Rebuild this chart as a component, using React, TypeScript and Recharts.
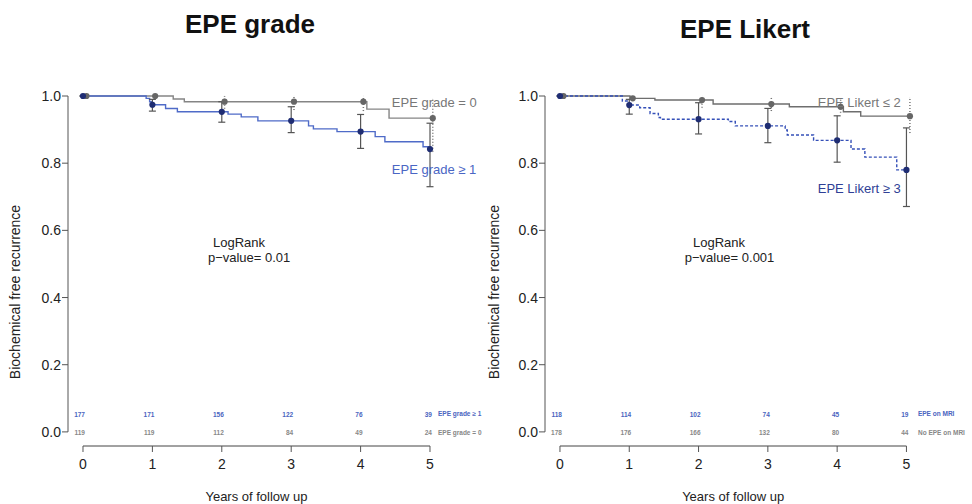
import React from 'react';
import {
  ComposedChart,
  Line,
  Scatter,
  ErrorBar,
  XAxis,
  YAxis,
  ReferenceLine,
  ReferenceDot
} from 'recharts';

const FONT = '"Liberation Sans", Arial, Helvetica, sans-serif';
const X_MIN = -0.216;
const X_MAX = 5.5;
const Y_MIN = -0.042;
const YEARS = [0, 1, 2, 3, 4, 5];
const Y_TICKS = [0, 0.2, 0.4, 0.6, 0.8, 1];

// EPE grade = 0 (grey)
const gradeZeroTimes = [0, 1.3, 1.46, 4.09, 4.41, 5.04];
const gradeZeroSurv = [1, 0.991, 0.983, 0.961, 0.934, 0.934];
const gradeZeroMarkTimes = [0.05, 1.04, 2.04, 3.04, 4.04, 5.04];
const gradeZeroMarkSurv = [1, 1, 0.983, 0.983, 0.983, 0.934];
const gradeZeroLow = [1, 1, 0.962, 0.958, 0.955, 0.834];
const gradeZeroHigh = [1, 1, 1, 1, 1, 0.99];
const gradeZeroAtRisk = [119, 119, 112, 84, 49, 24];

// EPE grade >= 1 (blue)
const gradeOneTimes = [0, 0.91, 0.96, 1.0, 1.19, 1.36, 2.09, 2.28, 2.52, 3.25, 3.32, 3.66, 4.21, 4.35, 4.9, 4.98, 5.0];
const gradeOneSurv = [1, 0.993, 0.983, 0.974, 0.963, 0.953, 0.946, 0.938, 0.926, 0.911, 0.902, 0.894, 0.879, 0.864, 0.849, 0.842, 0.842];
const gradeOneMarkSurv = [1, 0.974, 0.953, 0.926, 0.894, 0.842];
const gradeOneLow = [1, 0.955, 0.922, 0.891, 0.844, 0.73];
const gradeOneHigh = [1, 0.99, 0.983, 0.968, 0.945, 0.919];
const gradeOneAtRisk = [177, 171, 156, 122, 76, 39];

// EPE Likert <= 2 (grey)
const likertLowTimes = [0, 1.01, 1.37, 2.21, 3.31, 4.09, 4.34, 5.05];
const likertLowSurv = [1, 0.993, 0.988, 0.976, 0.968, 0.953, 0.94, 0.94];
const likertLowMarkTimes = [0.05, 1.05, 2.05, 3.05, 4.05, 5.05];
const likertLowMarkSurv = [1, 0.993, 0.988, 0.976, 0.968, 0.94];
const likertLowLow = [1, 0.985, 0.965, 0.955, 0.95, 0.89];
const likertLowHigh = [1, 1, 1, 0.995, 0.99, 0.995];
const likertLowAtRisk = [178, 176, 166, 132, 80, 44];

// EPE Likert >= 3 (blue, dashed)
const likertHighTimes = [0, 0.9, 1.0, 1.15, 1.3, 1.42, 1.45, 2.43, 2.53, 3.25, 3.28, 3.66, 4.2, 4.4, 4.86, 5.0];
const likertHighSurv = [1, 0.985, 0.973, 0.965, 0.948, 0.936, 0.931, 0.924, 0.911, 0.899, 0.884, 0.868, 0.842, 0.818, 0.78, 0.78];
const likertHighMarkSurv = [1, 0.973, 0.931, 0.911, 0.868, 0.78];
const likertHighLow = [1, 0.946, 0.887, 0.861, 0.803, 0.671];
const likertHighHigh = [1, 0.99, 0.98, 0.963, 0.941, 0.905];
const likertHighAtRisk = [118, 114, 102, 74, 45, 19];

const steps = (times: number[], surv: number[]) => times.map((t, i) => ({ t, s: surv[i] }));
const marks = (times: number[], surv: number[], low: number[], high: number[]) =>
  times.map((t, i) => ({ t, s: surv[i], err: [surv[i] - low[i], high[i] - surv[i]] }));
const riskRow = (counts: number[], row: number) => YEARS.map((t, i) => ({ t, s: row, n: counts[i] }));

const dotShape = (color: string) => (p: any) => <circle cx={p.cx} cy={p.cy} r={3.1} fill={color} />;
const riskShape = (color: string) => (p: any) => (
  <text x={p.cx + 2} y={p.cy} textAnchor="end" dominantBaseline="central" fontSize={6.5}
    fontWeight="bold" fill={color} fontFamily={FONT}>{p.payload.n}</text>
);

type PanelProps = {
  left: number;
  right: number;
  yLabelX: number;
  lowLine: any[]; lowMarks: any[]; lowColor: string;
  highLine: any[]; highMarks: any[]; highColor: string; highDash?: string; highDot: string;
  lowRisk: number[]; highRisk: number[];
  lowName: string; highName: string; lowRiskName: string; highRiskName: string;
  highLabelColor: string; highLabelY: number; nameX: number; riskNameX: number;
  pValue: string; logRankX: number; pX: number;
};

function Panel(p: PanelProps) {
  const xLabel = ({ viewBox }: any) => {
    const cx = viewBox.x + ((2.5 - X_MIN) / (X_MAX - X_MIN)) * viewBox.width;
    return <text x={cx} y={501} textAnchor="middle" fontSize={13} fill="#222" fontFamily={FONT}>Years of follow up</text>;
  };
  const yLabel = () => (
    <text x={p.yLabelX} y={292} transform={`rotate(-90 ${p.yLabelX} 292)`} textAnchor="middle"
      dominantBaseline="central" fontSize={14} fill="#222" fontFamily={FONT}>Biochemical free recurrence</text>
  );
  const txt = (fill: string, size = 13) => ({ position: 'right' as const, offset: 0, fill, fontSize: size, fontFamily: FONT });
  return (
    <ComposedChart width={486} height={504} margin={{ top: 96, right: p.right, left: 0, bottom: 0 }}>
      <XAxis type="number" dataKey="t" domain={[X_MIN, X_MAX]} ticks={YEARS} axisLine={false}
        tickSize={6} tickMargin={7} height={58} stroke="#555" interval={0}
        tick={{ fontSize: 14, fill: '#222', fontFamily: FONT }} label={xLabel} />
      <YAxis type="number" dataKey="s" domain={[Y_MIN, 1]} ticks={Y_TICKS} axisLine={false} width={p.left}
        tickSize={6} tickMargin={1} stroke="#555" interval={0} tickFormatter={(v: number) => v.toFixed(1)}
        tick={{ fontSize: 14, fill: '#222', fontFamily: FONT }} label={yLabel} />
      <ReferenceLine segment={[{ x: X_MIN, y: 0 }, { x: X_MIN, y: 1 }]} stroke="#555" ifOverflow="visible" />
      <ReferenceLine segment={[{ x: 0, y: Y_MIN }, { x: 5, y: Y_MIN }]} stroke="#444" ifOverflow="visible" />
      <Line data={p.lowLine} dataKey="s" type="stepAfter" stroke={p.lowColor} strokeWidth={1.4}
        dot={false} isAnimationActive={false} />
      <Line data={p.highLine} dataKey="s" type="stepAfter" stroke={p.highColor} strokeWidth={1.4}
        strokeDasharray={p.highDash} dot={false} isAnimationActive={false} />
      <Scatter data={p.lowMarks} dataKey="s" shape={dotShape('#666')} isAnimationActive={false}>
        <ErrorBar dataKey="err" direction="y" width={0} stroke="#777" strokeDasharray="1 2" />
      </Scatter>
      <Scatter data={p.highMarks} dataKey="s" shape={dotShape(p.highDot)} isAnimationActive={false}>
        <ErrorBar dataKey="err" direction="y" width={3.5} stroke="#555" strokeWidth={1.2} />
      </Scatter>
      <Scatter data={riskRow(p.highRisk, 0.053)} dataKey="s" shape={riskShape('#4a64c0')} isAnimationActive={false} />
      <Scatter data={riskRow(p.lowRisk, -0.002)} dataKey="s" shape={riskShape('#888')} isAnimationActive={false} />
      <ReferenceDot x={p.riskNameX} y={0.053} r={0} stroke="none" ifOverflow="visible"
        label={{ ...txt('#4a64c0', 6.5), value: p.highRiskName, fontWeight: 'bold' }} />
      <ReferenceDot x={p.riskNameX} y={-0.002} r={0} stroke="none" ifOverflow="visible"
        label={{ ...txt('#888', 6.5), value: p.lowRiskName, fontWeight: 'bold' }} />
      <ReferenceDot x={p.nameX} y={0.982} r={0} stroke="none" ifOverflow="visible"
        label={{ ...txt('#777'), value: p.lowName }} />
      <ReferenceDot x={p.nameX} y={p.highLabelY} r={0} stroke="none" ifOverflow="visible"
        label={{ ...txt(p.highLabelColor), value: p.highName }} />
      <ReferenceDot x={p.logRankX} y={0.565} r={0} stroke="none" ifOverflow="visible"
        label={{ ...txt('#222'), value: 'LogRank' }} />
      <ReferenceDot x={p.pX} y={0.52} r={0} stroke="none" ifOverflow="visible"
        label={{ ...txt('#222'), value: p.pValue }} />
    </ComposedChart>
  );
}

const titleStyle = (left: number, top: number): React.CSSProperties => ({
  position: 'absolute', left, top, width: 300, textAlign: 'center', fontFamily: FONT,
  fontWeight: 'bold', fontSize: 26, lineHeight: '26px', color: '#111'
});

export default function App() {
  return (
    <div style={{ position: 'absolute', left: 0, top: 0, width: 972, height: 504, background: '#fff', overflow: 'hidden' }}>
      <div style={titleStyle(100, 11)}>EPE grade</div>
      <div style={titleStyle(595, 16)}>EPE Likert</div>
      <div style={{ position: 'absolute', left: 0, top: 0 }}>
        <Panel
          left={68} right={21.3} yLabelX={15}
          lowLine={steps(gradeZeroTimes, gradeZeroSurv)}
          lowMarks={marks(gradeZeroMarkTimes, gradeZeroMarkSurv, gradeZeroLow, gradeZeroHigh)}
          lowColor="#858585"
          highLine={steps(gradeOneTimes, gradeOneSurv)}
          highMarks={marks(YEARS, gradeOneMarkSurv, gradeOneLow, gradeOneHigh)}
          highColor="#4f6bc8" highDot="#1f2d73"
          lowRisk={gradeZeroAtRisk} highRisk={gradeOneAtRisk}
          lowName="EPE grade = 0" highName="EPE grade ≥ 1"
          lowRiskName="EPE grade = 0" highRiskName="EPE grade ≥ 1"
          highLabelColor="#4a66c4" highLabelY={0.783} nameX={4.45} riskNameX={5.115}
          pValue="p−value= 0.01" logRankX={1.873} pX={1.80}
        />
      </div>
      <div style={{ position: 'absolute', left: 486, top: 0 }}>
        <Panel
          left={59} right={30.9} yLabelX={8}
          lowLine={steps(likertLowTimes, likertLowSurv)}
          lowMarks={marks(likertLowMarkTimes, likertLowMarkSurv, likertLowLow, likertLowHigh)}
          lowColor="#6e6e6e"
          highLine={steps(likertHighTimes, likertHighSurv)}
          highMarks={marks(YEARS, likertHighMarkSurv, likertHighLow, likertHighHigh)}
          highColor="#3550b8" highDash="3 2" highDot="#1f2d73"
          lowRisk={likertLowAtRisk} highRisk={likertHighAtRisk}
          lowName="EPE Likert ≤ 2" highName="EPE Likert ≥ 3"
          lowRiskName="No EPE on MRI" highRiskName="EPE on MRI"
          highLabelColor="#2f3f96" highLabelY={0.726} nameX={3.72} riskNameX={5.166}
          pValue="p−value= 0.001" logRankX={1.92} pX={1.80}
        />
      </div>
    </div>
  );
}
